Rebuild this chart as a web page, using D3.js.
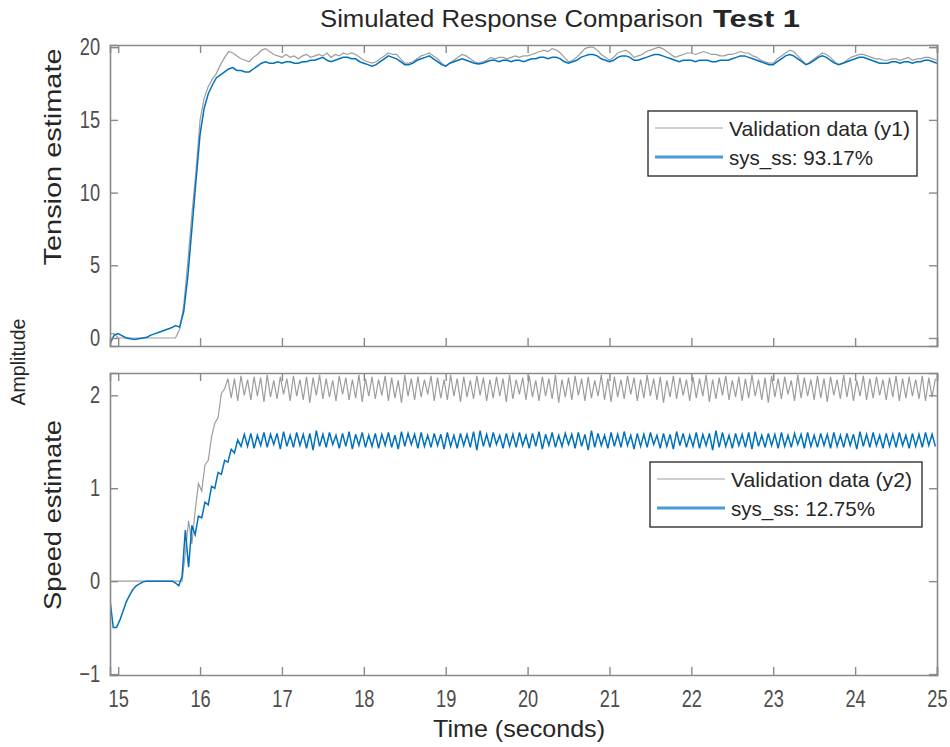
<!DOCTYPE html>
<html>
<head>
<meta charset="utf-8">
<script src="https://cdn.jsdelivr.net/npm/d3@7"></script>
<style>
  body { margin: 0; background: #fff; }
  svg { display: block; }
</style>
</head>
<body>
<div id="chart"></div>
<script>
// time sampling of the two recorded channels
const startTime = 14.9;
const tensionStep = 0.05;
const speedStep = 0.04;

const timeTicks = [15, 16, 17, 18, 19, 20, 21, 22, 23, 24, 25];
const tensionTicks = [0, 5, 10, 15, 20];
const speedTicks = [-1, 0, 1, 2];

const tensionMeasured = [
  0.3, 0.3, 0.0, 0.0, 0.0, 0.0, 0.0, 0.0, 0.0, 0.0,
  0.0, 0.0, 0.0, 0.0, 0.0, 0.0, 0.0, 0.6, 2.2, 5.2,
  8.5, 11.5, 15.0, 16.5, 17.3, 17.8, 18.2, 18.8, 19.3, 19.7,
  19.6, 19.4, 19.2, 19.1, 19.0, 19.3, 19.5, 19.8, 19.9, 19.7,
  19.5, 19.4, 19.3, 19.5, 19.3, 19.4, 19.2, 19.4, 19.5, 19.3,
  19.4, 19.5, 19.4, 19.6, 19.3, 19.5, 19.4, 19.6, 19.5, 19.6,
  19.5, 19.3, 19.1, 19.0, 18.9, 19.0, 19.2, 19.4, 19.6, 19.5,
  19.5, 19.2, 18.9, 18.9, 19.0, 19.2, 19.4, 19.5, 19.6, 19.4,
  19.2, 18.9, 18.7, 18.9, 19.1, 19.3, 19.5, 19.4, 19.2, 19.0,
  18.9, 19.0, 19.1, 19.3, 19.2, 19.3, 19.3, 19.2, 19.3, 19.4,
  19.3, 19.4, 19.4, 19.5, 19.6, 19.7, 19.8, 19.7, 19.9, 19.8,
  19.6, 19.3, 19.0, 19.1, 19.3, 19.6, 19.9, 20.0, 20.0, 19.8,
  19.5, 19.3, 19.1, 19.3, 19.6, 19.7, 19.8, 19.6, 19.3, 19.4,
  19.5, 19.7, 19.8, 19.9, 20.0, 19.9, 19.7, 19.5, 19.3, 19.4,
  19.5, 19.6, 19.6, 19.5, 19.6, 19.7, 19.6, 19.5, 19.5, 19.4,
  19.4, 19.5, 19.5, 19.6, 19.7, 19.6, 19.6, 19.4, 19.3, 19.1,
  19.0, 18.9, 18.9, 19.2, 19.4, 19.6, 19.8, 19.7, 19.4, 19.1,
  18.8, 19.0, 19.2, 19.4, 19.6, 19.5, 19.3, 19.0, 18.8, 18.9,
  19.1, 19.3, 19.4, 19.5, 19.5, 19.4, 19.3, 19.2, 19.2, 19.1,
  19.1, 19.2, 19.2, 19.1, 19.2, 19.3, 19.1, 19.2, 19.2, 19.3,
  19.3, 19.2, 19.1
];

const tensionModel = [
  -0.4, 0.2, 0.3, 0.15, 0.0, -0.05, -0.1, -0.05, 0.0, 0.05,
  0.2, 0.3, 0.4, 0.5, 0.6, 0.7, 0.85, 0.75, 1.8, 4.2,
  7.5, 10.8, 14.0, 15.8, 16.8, 17.4, 17.9, 18.1, 18.3, 18.5,
  18.6, 18.4, 18.4, 18.3, 18.3, 18.5, 18.7, 18.9, 19.0, 18.9,
  18.9, 19.0, 18.9, 19.0, 19.0, 18.9, 18.9, 19.0, 19.0, 19.1,
  19.1, 19.2, 19.3, 19.1, 19.0, 19.1, 19.2, 19.3, 19.3, 19.2,
  19.2, 19.0, 18.9, 18.8, 18.7, 18.8, 19.0, 19.2, 19.4, 19.3,
  19.2, 19.0, 18.8, 18.8, 18.9, 19.1, 19.2, 19.3, 19.4, 19.2,
  19.0, 18.8, 18.7, 18.9, 19.0, 19.1, 19.2, 19.1, 19.0, 18.9,
  18.85, 18.9, 19.0, 19.1, 19.1, 19.0, 19.1, 19.1, 19.0, 19.1,
  19.1, 19.0, 19.1, 19.2, 19.2, 19.3, 19.3, 19.2, 19.3, 19.3,
  19.2, 19.0, 18.9, 19.0, 19.1, 19.3, 19.4, 19.5, 19.5, 19.4,
  19.2, 19.1, 19.0, 19.1, 19.3, 19.4, 19.4, 19.3, 19.1, 19.1,
  19.2, 19.3, 19.4, 19.5, 19.5, 19.4, 19.3, 19.2, 19.1, 19.0,
  19.1, 19.1, 19.1, 19.0, 19.1, 19.1, 19.1, 19.0, 19.0, 19.1,
  19.1, 19.1, 19.2, 19.3, 19.4, 19.4, 19.3, 19.2, 19.1, 19.0,
  18.9, 18.8, 18.8, 19.0, 19.2, 19.4, 19.5, 19.4, 19.2, 19.0,
  18.8, 18.9, 19.1, 19.3, 19.4, 19.3, 19.1, 18.9, 18.8, 18.9,
  19.0, 19.1, 19.2, 19.3, 19.3, 19.2, 19.1, 19.0, 18.9, 18.9,
  18.9, 19.0, 19.0, 18.9, 19.0, 19.0, 18.9, 19.0, 19.0, 19.1,
  19.1, 19.0, 18.9
];

const speedMeasured = [
  0, 0, 0, 0, 0, 0, 0, 0, 0, 0, 0, 0, 0, 0, 0, 0, 0, 0, 0, 0, 0, 0, 0,
  0.3, 0.65, 0.4, 0.76, 1.05, 0.97, 1.25, 1.3, 1.55, 1.7, 1.76, 2.02, 2.07, 2.18,
  1.97, 2.18, 1.94, 2.21, 2.00, 2.17, 1.95, 2.20, 1.99, 2.19, 1.93, 2.22, 1.98, 2.16, 1.96, 2.20, 2.01, 2.18, 1.94, 2.21,
  1.99, 2.17, 1.95, 2.20, 1.92, 2.19, 2.00, 2.22, 1.96, 2.18, 1.98, 2.16, 1.94, 2.21, 2.01, 2.19, 1.95, 2.17, 1.97, 2.22,
  1.93, 2.18, 1.99, 2.20, 1.96, 2.17, 2.00, 2.21, 1.94, 2.19, 1.97, 2.16, 1.92, 2.22, 1.99, 2.18, 1.95, 2.20, 1.98, 2.17,
  2.01, 2.21, 1.94, 2.19, 1.97, 2.17, 1.95, 2.22, 1.99, 2.18, 1.93, 2.20, 1.98, 2.16, 1.96, 2.21, 2.00, 2.19, 1.94, 2.17,
  1.97, 2.20, 1.99, 2.18, 1.93, 2.22, 1.96, 2.17, 2.01, 2.19, 1.95, 2.21, 1.98, 2.16, 1.94, 2.20, 1.99, 2.18, 1.96, 2.22,
  1.92, 2.17, 1.98, 2.19, 1.95, 2.21, 2.00, 2.18, 1.94, 2.20, 1.97, 2.16, 1.99, 2.22, 1.95, 2.18, 1.93, 2.20, 1.98, 2.17,
  1.96, 2.21, 2.01, 2.19, 1.94, 2.17, 1.97, 2.22, 1.99, 2.18, 1.95, 2.20, 1.92, 2.16, 1.98, 2.21, 1.96, 2.19, 2.00, 2.17,
  1.94, 2.20, 1.97, 2.18, 1.99, 2.22, 1.93, 2.17, 1.96, 2.19, 2.00, 2.21, 1.95, 2.16, 1.98, 2.20, 1.94, 2.18, 1.97, 2.22,
  1.99, 2.17, 1.95, 2.19, 1.92, 2.21, 1.98, 2.18, 1.96, 2.20, 2.01, 2.16, 1.94, 2.22, 1.97, 2.19, 1.99, 2.17, 1.95, 2.21,
  1.97, 2.18, 1.93, 2.20, 2.00, 2.17, 1.96, 2.22, 1.98, 2.19, 1.94, 2.16, 1.99, 2.21, 1.95, 2.18, 1.97, 2.20, 2.00, 2.17,
  1.95, 2.19, 1.98, 2.21, 1.94, 2.18, 1.97, 2.20, 1.99, 2.17, 1.96, 2.21, 1.94, 2.19, 1.98, 2.18
];

const speedModel = [
  -0.2, -0.5, -0.5, -0.42, -0.32, -0.22, -0.15, -0.09, -0.05, -0.03, -0.01,
  0, 0, 0, 0, 0, 0, 0, 0, 0,
  -0.02, -0.05, 0.05, 0.55, 0.15, 0.6, 0.5, 0.7, 0.68, 0.85, 0.82, 1.02, 1.0, 1.17, 1.15, 1.3, 1.28, 1.42, 1.38, 1.52, 1.45, 1.58,
  1.45, 1.59, 1.43, 1.57, 1.46, 1.60, 1.44, 1.58, 1.47, 1.59, 1.42, 1.61, 1.45, 1.57, 1.44, 1.60, 1.46, 1.58, 1.43, 1.59,
  1.41, 1.62, 1.45, 1.58, 1.44, 1.60, 1.47, 1.57, 1.43, 1.59, 1.45, 1.61, 1.42, 1.58, 1.46, 1.60, 1.44, 1.57, 1.45, 1.59,
  1.43, 1.58, 1.46, 1.60, 1.44, 1.57, 1.42, 1.61, 1.45, 1.59, 1.47, 1.58, 1.43, 1.60, 1.45, 1.57, 1.44, 1.59, 1.46, 1.58,
  1.42, 1.60, 1.45, 1.57, 1.43, 1.59, 1.46, 1.58, 1.44, 1.61, 1.41, 1.62, 1.45, 1.58, 1.44, 1.60, 1.47, 1.57, 1.43, 1.59,
  1.45, 1.58, 1.44, 1.60, 1.46, 1.57, 1.43, 1.59, 1.45, 1.61, 1.42, 1.58, 1.46, 1.60, 1.44, 1.57, 1.45, 1.59, 1.47, 1.58,
  1.43, 1.60, 1.45, 1.58, 1.41, 1.62, 1.44, 1.59, 1.46, 1.57, 1.43, 1.60, 1.45, 1.58, 1.44, 1.61, 1.46, 1.57, 1.42, 1.59,
  1.45, 1.58, 1.44, 1.60, 1.47, 1.57, 1.43, 1.59, 1.45, 1.58, 1.42, 1.61, 1.46, 1.59, 1.44, 1.57, 1.45, 1.60, 1.43, 1.58,
  1.46, 1.59, 1.41, 1.62, 1.44, 1.60, 1.45, 1.57, 1.43, 1.59, 1.46, 1.58, 1.44, 1.60, 1.42, 1.61, 1.45, 1.57, 1.44, 1.59,
  1.46, 1.58, 1.43, 1.60, 1.45, 1.57, 1.44, 1.59, 1.47, 1.58, 1.43, 1.60, 1.45, 1.57, 1.44, 1.59, 1.46, 1.58, 1.43, 1.60,
  1.45, 1.57, 1.44, 1.59, 1.46, 1.58, 1.42, 1.61, 1.45, 1.58, 1.44, 1.60, 1.46, 1.57, 1.43, 1.59, 1.45, 1.58, 1.44, 1.60,
  1.46, 1.57, 1.43, 1.59, 1.45, 1.58, 1.44, 1.60, 1.46, 1.58,
  1.45
];

const legendTension = ["Validation data (y1)", "sys_ss: 93.17%"];
const legendSpeed = ["Validation data (y2)", "sys_ss: 12.75%"];

const width = 950, height = 747;
const plotLeft = 110, plotRight = 937;
const panels = [
  {top: 45, bottom: 346, domain: [-0.55, 20.15], ticks: tensionTicks, label: "Tension estimate",
   labelY: 157, labelLen: 217,
   measured: tensionMeasured, model: tensionModel, step: tensionStep, legend: legendTension,
   legendBox: {x: 648, y: 111, w: 269, h: 65}},
  {top: 373, bottom: 675, domain: [-1.01, 2.24], ticks: speedTicks, label: "Speed estimate",
   labelY: 515, labelLen: 190,
   measured: speedMeasured, model: speedModel, step: speedStep, legend: legendSpeed,
   legendBox: {x: 650, y: 462, w: 272, h: 65}}
];

const measuredColor = "#9d9d9d";
const modelColor = "#0072bd";
const axisColor = "#8a8a8a";
const textColor = "#262626";
const font = "'Liberation Sans', Arial, sans-serif";

const svg = d3.select("#chart").append("svg")
    .attr("width", width)
    .attr("height", height);

svg.append("rect").attr("width", width).attr("height", height).attr("fill", "#fff");

const x = d3.scaleLinear().domain([14.9, 25]).range([plotLeft, plotRight]);

panels.forEach((p, k) => {
    const y = d3.scaleLinear().domain(p.domain).range([p.bottom, p.top]);
    const g = svg.append("g");

    g.append("clipPath").attr("id", "clip" + k)
        .append("rect")
        .attr("x", plotLeft).attr("y", p.top)
        .attr("width", plotRight - plotLeft).attr("height", p.bottom - p.top);

    const toPoints = arr => arr.map((v, i) => [startTime + i * p.step, v]);
    const line = d3.line().x(d => x(d[0])).y(d => y(d[1]));

    const lines = g.append("g").attr("clip-path", `url(#clip${k})`);
    lines.append("path")
        .attr("d", line(toPoints(p.measured)))
        .attr("fill", "none")
        .attr("stroke", measuredColor)
        .attr("stroke-width", 1.2);
    lines.append("path")
        .attr("d", line(toPoints(p.model)))
        .attr("fill", "none")
        .attr("stroke", modelColor)
        .attr("stroke-width", 1.5);

    // axes, ticks pointing inward on all four sides
    const bottomAxis = d3.axisBottom(x).tickValues(timeTicks).tickSize(-8).tickPadding(15)
        .tickFormat(k === 1 ? d3.format("d") : "");
    const leftAxis = d3.axisLeft(y).tickValues(p.ticks).tickSize(-8).tickPadding(13).tickFormat(d3.format("d"));
    const topAxis = d3.axisTop(x).tickValues(timeTicks).tickSize(-8).tickFormat("");
    const rightAxis = d3.axisRight(y).tickValues(p.ticks).tickSize(-8).tickFormat("");

    const axes = [
        g.append("g").attr("transform", `translate(0,${p.bottom})`).call(bottomAxis),
        g.append("g").attr("transform", `translate(${plotLeft},0)`).call(leftAxis),
        g.append("g").attr("transform", `translate(0,${p.top})`).call(topAxis),
        g.append("g").attr("transform", `translate(${plotRight},0)`).call(rightAxis)
    ];
    axes.forEach(a => {
        a.selectAll(".domain").attr("stroke", axisColor).attr("stroke-width", 1.6);
        a.selectAll(".tick line").attr("stroke", axisColor).attr("stroke-width", 1.4);
        // narrow tick labels
        a.selectAll(".tick text")
            .attr("fill", "#4d4d4d")
            .style("font-family", font)
            .style("font-size", "24px")
            .attr("transform", "scale(0.76,1)");
    });

    g.append("text")
        .attr("transform", `translate(61,${p.labelY}) rotate(-90)`)
        .attr("text-anchor", "middle")
        .style("font-family", font)
        .style("font-size", "24px")
        .attr("textLength", p.labelLen)
        .attr("lengthAdjust", "spacingAndGlyphs")
        .attr("fill", textColor)
        .text(p.label);

    // legend
    const lb = p.legendBox;
    const leg = g.append("g");
    leg.append("rect")
        .attr("x", lb.x).attr("y", lb.y).attr("width", lb.w).attr("height", lb.h)
        .attr("fill", "#fff").attr("stroke", "#333").attr("stroke-width", 1.4);
    p.legend.forEach((name, i) => {
        const ly = lb.y + 17 + i * 29;
        leg.append("line")
            .attr("x1", lb.x + 7).attr("x2", lb.x + 75)
            .attr("y1", ly).attr("y2", ly)
            .attr("stroke", i === 0 ? measuredColor : "#4d9bd6")
            .attr("stroke-width", i === 0 ? 1.2 : 3);
        leg.append("text")
            .attr("x", lb.x + 81).attr("y", ly + 8)
            .style("font-family", font)
            .style("font-size", "21px")
            .attr("textLength", i === 0 ? 181 : 144)
            .attr("lengthAdjust", "spacingAndGlyphs")
            .attr("fill", textColor)
            .text(name);
    });
});

svg.append("text")
    .attr("transform", `translate(25,362) rotate(-90)`)
    .attr("text-anchor", "middle")
    .style("font-family", font)
    .style("font-size", "20px")
    .attr("textLength", 87)
    .attr("lengthAdjust", "spacingAndGlyphs")
    .attr("fill", textColor)
    .text("Amplitude");

svg.append("text")
    .attr("x", 519).attr("y", 737)
    .attr("text-anchor", "middle")
    .style("font-family", font)
    .style("font-size", "24px")
    .attr("textLength", 172)
    .attr("lengthAdjust", "spacingAndGlyphs")
    .attr("fill", textColor)
    .text("Time (seconds)");

svg.append("text")
    .attr("x", 320).attr("y", 27)
    .style("font-family", font)
    .style("font-size", "23px")
    .attr("textLength", 383)
    .attr("lengthAdjust", "spacingAndGlyphs")
    .attr("fill", textColor)
    .text("Simulated Response Comparison");
svg.append("text")
    .attr("x", 713).attr("y", 27)
    .style("font-family", font)
    .style("font-size", "23px")
    .style("font-weight", "bold")
    .attr("textLength", 87)
    .attr("lengthAdjust", "spacingAndGlyphs")
    .attr("fill", textColor)
    .text("Test 1");
</script>
</body>
</html>
